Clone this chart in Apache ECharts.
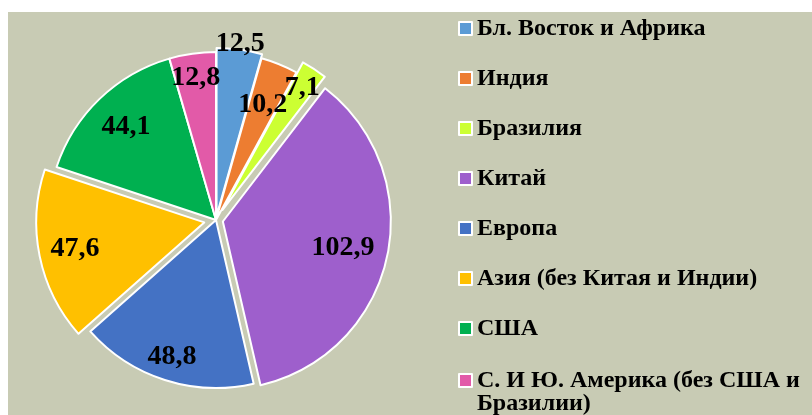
<!DOCTYPE html>
<html><head><meta charset="utf-8">
<script src="https://cdn.jsdelivr.net/npm/echarts@6/dist/echarts.min.js"></script>
<style>
html,body{margin:0;padding:0;background:#fff;width:812px;height:415px;overflow:hidden}
#c{position:absolute;left:8px;top:12px;width:804px;height:403px}
</style>
</head><body><div id="c"></div>
<script>
// ---- data ----
const categories = ['Бл. Восток и Африка', 'Индия', 'Бразилия', 'Китай', 'Европа',
  'Азия (без Китая и Индии)', 'США', 'С. И Ю. Америка (без США и Бразилии)'];
const values = [12.5, 10.2, 7.1, 102.9, 48.8, 47.6, 44.1, 12.8];
const labelTexts = values.map(v => v.toFixed(1).replace('.', ','));

// ---- style ----
const colors = ['#5B9BD5', '#ED7D31', '#CCFF33', '#9E5FCC', '#4472C4', '#FFC000', '#00B050', '#E25AA8'];
const explodeOf = [4, 0, 12, 7, 0, 12, 0, 0];               // slice explode distance
const labelDist = [178, 124, 158, 130, 144, 144, 130, 144]; // label distance from centre
const center = [208, 208];
const R = 168;
const FONT = 'Liberation Serif';

function base(extra) {
  return Object.assign({
    type: 'pie', center: center, radius: [0, R], startAngle: 90, clockwise: true,
    animation: false, silent: true, emphasis: { disabled: true },
    avoidLabelOverlap: false, labelLine: { show: false }, minShowLabelAngle: 0,
    labelLayout: { hideOverlap: false }
  }, extra);
}

const series = [];
[...new Set(explodeOf)].forEach(off => {
  series.push(base({
    selectedMode: 'multiple',
    selectedOffset: off,
    label: { show: false },
    data: categories.map((n, i) => {
      const mine = explodeOf[i] === off;
      return {
        name: n, value: values[i],
        selected: mine && off > 0,
        itemStyle: mine ? { color: colors[i], borderColor: '#fff', borderWidth: 2 }
                        : { color: 'rgba(0,0,0,0)', borderWidth: 0, opacity: 0 }
      };
    })
  }));
});
[...new Set(labelDist)].forEach(d => {
  series.push(base({
    radius: [d - 33, d + 27],
    z: 5,
    itemStyle: { color: 'rgba(0,0,0,0)', borderWidth: 0 },
    data: categories.map((n, i) => ({
      name: n, value: values[i],
      label: {
        show: labelDist[i] === d, position: 'inside',
        formatter: p => labelTexts[p.dataIndex],
        fontFamily: FONT, fontWeight: 'bold', fontSize: 28, color: '#000'
      }
    }))
  }));
});

const legendText = { fontFamily: FONT, fontWeight: 'bold', fontSize: 24, color: '#000', lineHeight: 23 };
const legendBase = {
  orient: 'vertical', left: 450, padding: 0, height: 500,
  itemWidth: 13, itemHeight: 13, itemGap: 26, icon: 'rect', selectedMode: false,
  textStyle: legendText
};
const legendItem = i => ({
  name: categories[i],
  itemStyle: { color: colors[i], borderColor: '#fff', borderWidth: 2, opacity: 1 }
});
const last = categories.length - 1;

const chart = echarts.init(document.getElementById('c'));
chart.setOption({
  backgroundColor: '#C8CBB4',
  legend: [
    Object.assign({}, legendBase, {
      top: 4.5,
      data: categories.slice(0, last).map((n, i) => legendItem(i))
    }),
    Object.assign({}, legendBase, {
      top: 333.5,
      // empty first line keeps the icon level with the first text line
      formatter: name => '\n' + name.replace(/ (\S+)$/, '\n$1'),
      data: [legendItem(last)]
    })
  ],
  series: series
});
</script>
</body></html>
